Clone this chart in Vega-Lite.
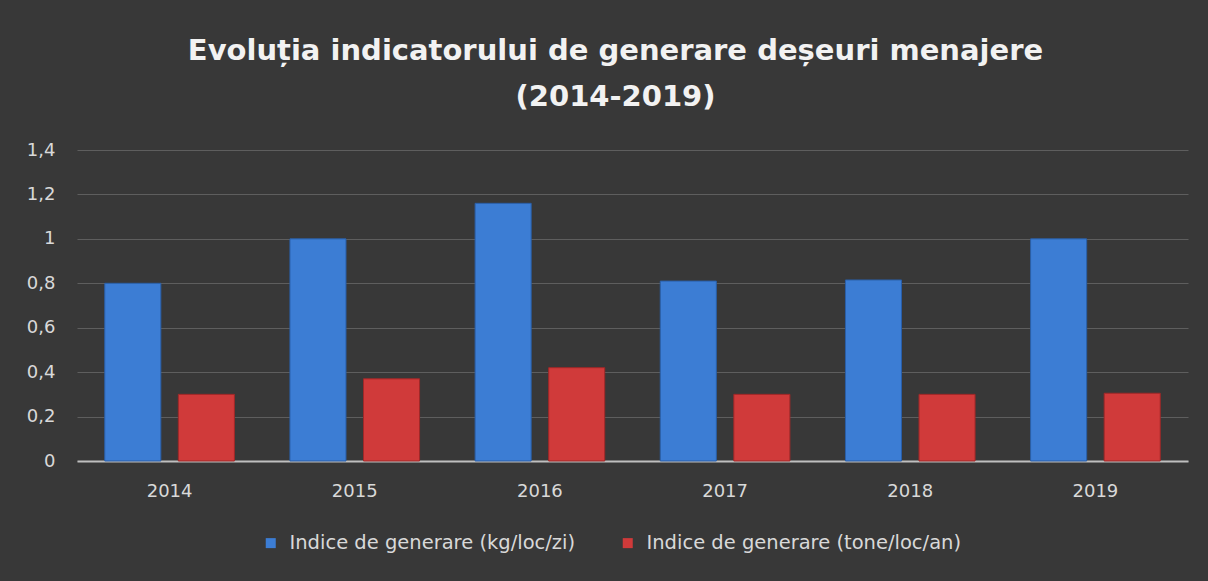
{
  "$schema": "https://vega.github.io/schema/vega-lite/v6.json",
  "width": 1111,
  "height": 311,
  "autosize": {"type": "none"},
  "padding": {"left": 77, "top": 150, "right": 20, "bottom": 120},
  "background": "#383838",
  "title": {
    "text": ["Evoluția indicatorului de generare deșeuri menajere", "(2014-2019)"],
    "anchor": "middle",
    "font": "DejaVu Sans",
    "fontSize": 29,
    "fontWeight": "bold",
    "color": "#f2f2f2",
    "lineHeight": 46,
    "offset": 29,
    "dx": -17
  },
  "data": {
    "values": [
      {"an": "2014", "serie": "Indice de generare (kg/loc/zi)", "valoare": 0.80},
      {"an": "2014", "serie": "Indice de generare (tone/loc/an)", "valoare": 0.30},
      {"an": "2015", "serie": "Indice de generare (kg/loc/zi)", "valoare": 1.00},
      {"an": "2015", "serie": "Indice de generare (tone/loc/an)", "valoare": 0.37},
      {"an": "2016", "serie": "Indice de generare (kg/loc/zi)", "valoare": 1.16},
      {"an": "2016", "serie": "Indice de generare (tone/loc/an)", "valoare": 0.42},
      {"an": "2017", "serie": "Indice de generare (kg/loc/zi)", "valoare": 0.81},
      {"an": "2017", "serie": "Indice de generare (tone/loc/an)", "valoare": 0.30},
      {"an": "2018", "serie": "Indice de generare (kg/loc/zi)", "valoare": 0.815},
      {"an": "2018", "serie": "Indice de generare (tone/loc/an)", "valoare": 0.30},
      {"an": "2019", "serie": "Indice de generare (kg/loc/zi)", "valoare": 1.00},
      {"an": "2019", "serie": "Indice de generare (tone/loc/an)", "valoare": 0.305}
    ]
  },
  "mark": {"type": "bar", "strokeWidth": 1},
  "encoding": {
    "x": {
      "field": "an",
      "type": "nominal",
      "scale": {"paddingInner": 0.3, "paddingOuter": 0.15},
      "axis": {
        "title": null,
        "labelAngle": 0,
        "labelFont": "DejaVu Sans",
        "labelFontSize": 18,
        "labelColor": "#d9d9d9",
        "labelPadding": 21,
        "ticks": false,
        "domainColor": "#bfbfbf",
        "domainWidth": 2,
        "grid": false
      }
    },
    "xOffset": {
      "field": "serie",
      "type": "nominal",
      "scale": {"paddingInner": 0.238, "paddingOuter": 0}
    },
    "y": {
      "field": "valoare",
      "type": "quantitative",
      "scale": {"domain": [0, 1.4], "nice": false},
      "axis": {
        "title": null,
        "values": [0, 0.2, 0.4, 0.6, 0.8, 1, 1.2, 1.4],
        "labelExpr": "replace(format(datum.value, '.1~f'), '.', ',')",
        "labelFont": "DejaVu Sans",
        "labelFontSize": 18,
        "labelColor": "#d9d9d9",
        "labelPadding": 22,
        "ticks": false,
        "domain": false,
        "grid": true,
        "gridColor": "#5e5e5e",
        "gridWidth": 1
      }
    },
    "color": {
      "field": "serie",
      "type": "nominal",
      "scale": {"range": ["#3c7dd4", "#d03a3a"]},
      "legend": {
        "title": null,
        "orient": "none",
        "legendX": 184,
        "legendY": 383,
        "direction": "horizontal",
        "symbolType": "square",
        "symbolSize": 100,
        "symbolStrokeWidth": 0,
        "labelFont": "DejaVu Sans",
        "labelFontSize": 19.5,
        "labelColor": "#d9d9d9",
        "labelLimit": 400,
        "labelOffset": 9,
        "columnPadding": 42
      }
    },
    "stroke": {
      "field": "serie",
      "type": "nominal",
      "scale": {"range": ["#2a5fa8", "#a02828"]},
      "legend": null
    }
  },
  "config": {
    "view": {"stroke": null}
  }
}
